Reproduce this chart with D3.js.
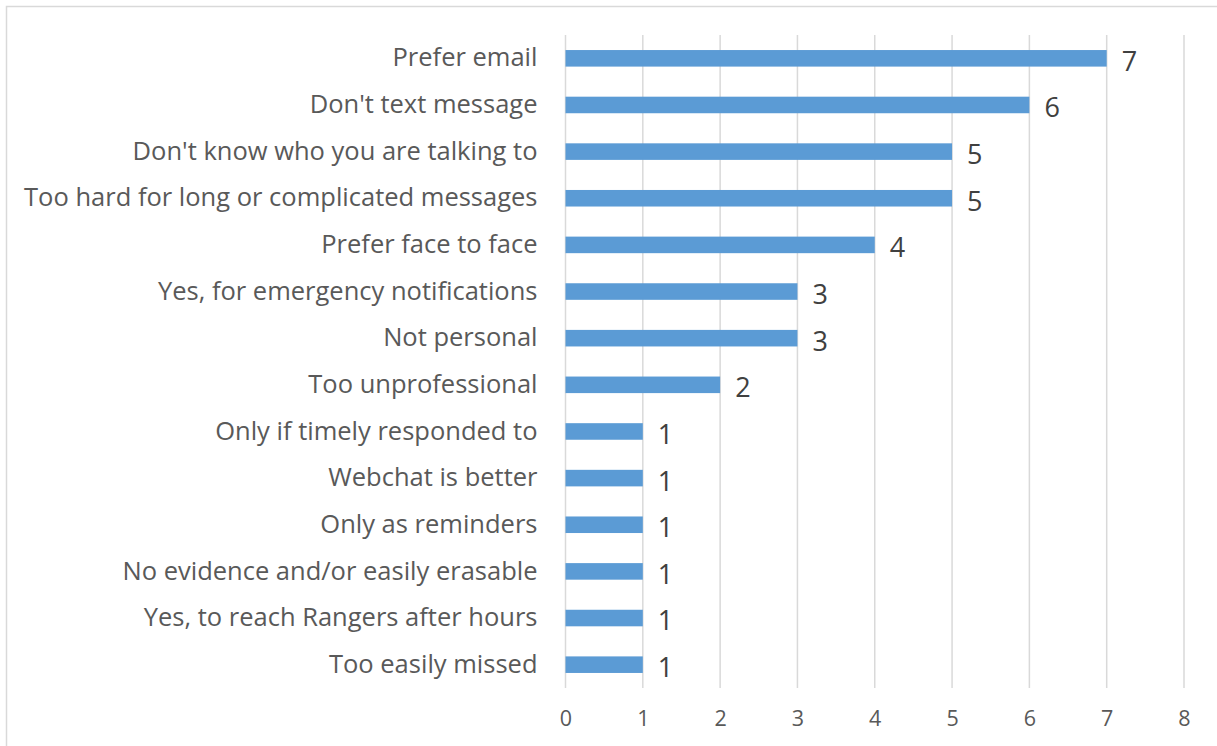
<!DOCTYPE html>
<html>
<head>
<meta charset="utf-8">
<script src="https://cdn.jsdelivr.net/npm/d3@7/dist/d3.min.js"></script>
<style>
  html, body { margin: 0; padding: 0; background: #fff; }
  svg { display: block; }
  text { font-family: "Open Sans", sans-serif; }
</style>
</head>
<body>
<svg id="chart" width="1217" height="746"></svg>
<script>
// Reasons given, top to bottom, with the number of responses for each
const categories = [
  "Prefer email",
  "Don't text message",
  "Don't know who you are talking to",
  "Too hard for long or complicated messages",
  "Prefer face to face",
  "Yes, for emergency notifications",
  "Not personal",
  "Too unprofessional",
  "Only if timely responded to",
  "Webchat is better",
  "Only as reminders",
  "No evidence and/or easily erasable",
  "Yes, to reach Rangers after hours",
  "Too easily missed"
];
const counts = [7, 6, 5, 5, 4, 3, 3, 2, 1, 1, 1, 1, 1, 1];
const xTicks = [0, 1, 2, 3, 4, 5, 6, 7, 8];

const svg = d3.select("#chart");
const W = 1217, H = 746;
const plot = { left: 565.5, right: 1184, top: 35, bottom: 688 };
const FONT = "'Open Sans', sans-serif";

// Chart frame
svg.append("rect")
  .attr("x", 6.5).attr("y", 6.5)
  .attr("width", W + 10).attr("height", H + 10)
  .attr("fill", "#fff")
  .attr("stroke", "#d9d9d9").attr("stroke-width", 1.5);

const x = d3.scaleLinear().domain([0, 8]).range([plot.left, plot.right]);
const y = d3.scaleBand().domain(categories).range([plot.top, plot.bottom]).paddingInner(0.645).paddingOuter(0.3225);

// Vertical gridlines
svg.append("g").selectAll("line").data(xTicks).join("line")
  .attr("x1", d => x(d)).attr("x2", d => x(d))
  .attr("y1", plot.top).attr("y2", plot.bottom)
  .attr("stroke", "#d9d9d9").attr("stroke-width", 1.5);

// Bottom axis tick labels
const xAxis = d3.axisBottom(x).tickValues(xTicks).tickSize(0).tickPadding(23);
const gx = svg.append("g").attr("transform", `translate(0,${plot.bottom})`).call(xAxis);
gx.select(".domain").remove();
gx.selectAll("text").attr("font-size", 21.5).attr("fill", "#595959")
  .style("font-family", FONT);

// Category labels
const yAxis = d3.axisLeft(y).tickSize(0).tickPadding(28);
const gy = svg.append("g").attr("transform", `translate(${plot.left},0)`).call(yAxis);
gy.select(".domain").remove();
gy.selectAll("text").attr("font-size", 25.5).attr("fill", "#595959")
  .style("font-family", FONT);

// Bars
svg.append("g").selectAll("rect").data(categories).join("rect")
  .attr("x", x(0))
  .attr("y", d => y(d))
  .attr("width", (d, i) => x(counts[i]) - x(0))
  .attr("height", y.bandwidth())
  .attr("fill", "#5b9bd5");

// Value labels
svg.append("g").selectAll("text").data(categories).join("text")
  .attr("x", (d, i) => x(counts[i]) + 15)
  .attr("y", d => y(d) + y.bandwidth() / 2)
  .attr("dy", "0.46em")
  .attr("font-size", 27)
  .attr("fill", "#404040")
  .text((d, i) => counts[i]);
</script>
</body>
</html>
